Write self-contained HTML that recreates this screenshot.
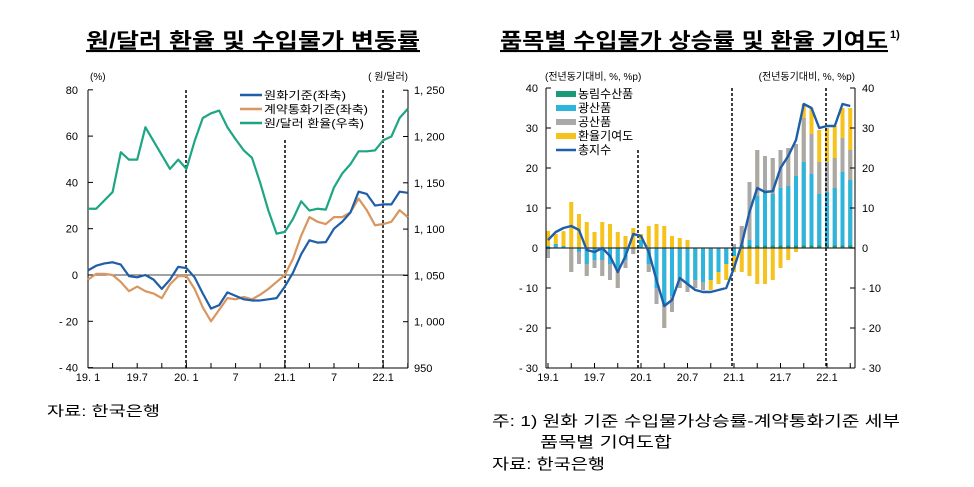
<!DOCTYPE html><html><head><meta charset="utf-8"><style>
body{margin:0;background:#fff;width:974px;height:487px;overflow:hidden;font-family:"Liberation Sans","Noto Sans CJK KR",sans-serif}
svg{position:absolute;left:0;top:0}
</style></head><body>
<svg id="s" width="974" height="487" xmlns="http://www.w3.org/2000/svg" font-family="'Liberation Sans','Noto Sans CJK KR',sans-serif"></svg>
<script>
var S=[];
function t(x,y,s,sz,anc,extra){S.push('<text x="'+x+'" y="'+y+'" font-size="'+sz+'" text-anchor="'+(anc||'start')+'" '+(extra||'')+'>'+s+'</text>');}
function l(x1,y1,x2,y2,c,w,d){S.push('<line x1="'+x1+'" y1="'+y1+'" x2="'+x2+'" y2="'+y2+'" stroke="'+c+'" stroke-width="'+w+'"'+(d?' stroke-dasharray="'+d+'"':'')+'/>');}
function pl(pts,c,w){S.push('<polyline fill="none" stroke="'+c+'" stroke-width="'+w+'" stroke-linejoin="round" points="'+pts.join(' ')+'"/>');}
// titles
t(86,48,'원/달러 환율 및 수입물가 변동률',21,'start','font-weight="bold" text-decoration="underline" textLength="334" lengthAdjust="spacingAndGlyphs"');
t(500,48,'품목별 수입물가 상승률 및 환율 기여도',21,'start','font-weight="bold" text-decoration="underline" textLength="388" lengthAdjust="spacingAndGlyphs"');
t(890,38,'1)',11,'start','font-weight="bold"');
// LEFT
var L0=88,Lx=function(i){return L0+8.2*i},Ly=function(v){return 275-v*46.3/20},Ry=function(v){return 368-(v-950)*46.3/50};
l(88,90,88,368,'#000',1);l(408,90,408,368,'#000',1);l(88,368,408,368,'#000',1);l(88,275,408,275,'#444',1);
[80,60,40,20,0,-20,-40].forEach(function(v){var y=Ly(v);l(88,y,93,y,'#000',1);t(78,y+4,v<0?'- '+(-v):v,11,'end');});
[1250,1200,1150,1100,1050,1000,950].forEach(function(v){var y=Ry(v);l(403,y,408,y,'#000',1);t(414,y+4,v>=1000?String(v).replace(/(\d)(\d{3})$/,'$1, $2'):v,11,'start');});
for(var i=0;i<=39;i+=3)l(Lx(i),368,Lx(i),363,'#000',1);
[['19. 1',0],['19.7',6],['20. 1',12],['7',18],['21.1',24],['7',30],['22.1',36]].forEach(function(a){t(Lx(a[1]),381,a[0],11,'middle');});
t(90,80,'(%)',10,'start');t(408,80,'( 원/달러)',10,'end');
l(186,90,186,368,'#000',1.5,'3,2');l(285,140,285,368,'#000',1.5,'3,2');l(383,90,383,368,'#000',1.5,'3,2');
var B=[2,4,5,5.5,4.5,-0.5,-1,0,-2,-6,-2,3.5,3,-1,-8,-14.5,-13,-7.5,-9,-10.5,-11,-11,-10.5,-10,-5,1,9,15,14,14.2,20,23,27,36,35,30,30.5,30.5,36,35.5];
var O=[-2,0.5,0.5,0,-3,-7,-5,-7,-8,-10,-4,-0.5,-0.5,-6,-14,-20,-15,-10,-10.5,-9.5,-10.5,-8.5,-6,-3,0,7,17,25,23,22,25,25,27,33,28,21.5,22,23,28,25];
var G=[1122,1122,1131,1140,1183,1175,1175,1210,1195,1180,1165,1175,1165,1195,1220,1225,1228,1210,1197,1185,1177,1150,1120,1095,1097,1111,1130,1120,1122,1121,1145,1160,1170,1184,1184,1185,1196,1200,1220,1230];
pl(G.map(function(v,i){return Lx(i)+','+Ry(v)}),'#1ea584',2.2);
pl(O.map(function(v,i){return Lx(i)+','+Ly(v)}),'#d9965f',2.2);
pl(B.map(function(v,i){return Lx(i)+','+Ly(v)}),'#1f5ea8',2.2);
[['원화기준(좌축)','#1f5ea8',82],['계약통화기준(좌축)','#d9965f',104],['원/달러 환율(우축)','#1ea584',100]].forEach(function(a,k){var y=95+k*14;l(240,y,262,y,a[1],2.5);t(264,y+4,a[0],11,'start','textLength="'+a[2]+'" lengthAdjust="spacingAndGlyphs"');});
t(47,416,'자료: 한국은행',14,'start','textLength="113" lengthAdjust="spacingAndGlyphs"');
// RIGHT
var Rx=function(i){return 548+7.75*i},Yr=function(v){return 248-v*4};
var P=[[0.5,0.5,4.3],[1,1,3.5],[0.5,0.5,4.2],[0,0,11.5],[0,0,8.5],[0,0,6.5],[0,0,4],[0,0,6.5],[0,0,6],[0,0,4],[0,0,3],[0,0,5],[2,2,3.5],[0,0,5.5],[0,0,6],[0,0,5.5],[0,0,3],[0,0,2.5],[0,0,2],[0,0,0],[0,0,0],[0,0,0],[0,0,0],[0,0,0],[0,1,1],[0,5.5,5.5],[2,16.5,16.5],[13,24.5,24.5],[14,23,23],[13.5,22.5,22.5],[15,24.5,24.5],[15.5,25,25],[18,26,26],[21.5,32.5,36],[18.5,28.5,35],[13.5,21.5,29.5],[14,21.5,30],[15,22.5,30.5],[19,27.5,35],[17,24.5,35]];
var N=[[0,-2.5,-2.5],[0,0,0],[0,0,0],[0,-6,-6],[-1,-4,-4],[-4,-7,-7],[-3,-5,-5],[-3,-7,-7],[-4,-8,-8],[-5,-10,-10],[-3,-5,-5],[0,-1.5,-1.5],[0,0,0],[-4,-6,-6],[-10,-14,-14],[-14,-20,-20],[-12,-16,-16],[-8,-10,-10],[-9,-11,-11],[-8,-10,-10],[-8.5,-10.5,-10.5],[-8,-8,-10.5],[-6,-6,-9],[-4,-4,-8],[-2,-2,-6],[0,0,-6],[0,0,-7],[0,0,-9],[0,0,-9],[0,0,-8],[0,0,-5],[0,0,-3],[0,0,-1],[0,0,0],[0,0,0],[0,0,0],[0,0,0],[0,0,0],[0,0,0],[0,0,0]];
function bar(i,a,b,c){if(a==b)return;var y1=Yr(Math.max(a,b)),y2=Yr(Math.min(a,b));S.push('<rect x="'+(Rx(i)-2)+'" y="'+y1+'" width="4" height="'+(y2-y1)+'" fill="'+c+'"/>');}
for(var i=0;i<40;i++){var p=P[i],n=N[i];bar(i,0,p[2],'#f6c21c');bar(i,0,p[1],'#a9a9a9');bar(i,0,p[0],'#2db5dd');bar(i,0,n[2],'#f6c21c');bar(i,0,n[1],'#a9a9a9');bar(i,0,n[0],'#2db5dd');if(i>=25)bar(i,0,0.6,'#1a9a78');}
l(546,88,546,368,'#000',1);l(855,88,855,368,'#000',1);l(546,368,855,368,'#000',1);l(546,248,855,248,'#333',1.2);
[40,30,20,10,0,-10,-20,-30].forEach(function(v){var y=Yr(v);l(546,y,551,y,'#000',1);l(850,y,855,y,'#000',1);t(538,y+4,v<0?'- '+(-v):v,11,'end');t(862,y+4,v<0?'- '+(-v):v,11,'start');});
for(var i=0;i<=39;i+=3)l(Rx(i),368,Rx(i),363,'#000',1);
[['19.1',0],['19.7',6],['20.1',12],['20.7',18],['21.1',24],['21.7',30],['22.1',36]].forEach(function(a){t(Rx(a[1]),381,a[0],11,'middle');});
t(545,80,'(전년동기대비, %, %p)',10,'start');t(855,80,'(전년동기대비, %, %p)',10,'end');
l(638,150,638,368,'#000',1.5,'3,2');l(732,88,732,368,'#000',1.5,'3,2');l(826,88,826,368,'#000',1.5,'3,2');
pl(B.map(function(v,i){return Rx(i)+','+Yr(v)}),'#1f5ea8',2.4);
[['농림수산품','#1a9a78'],['광산품','#2db5dd'],['공산품','#a9a9a9'],['환율기여도','#f6c21c']].forEach(function(a,k){var y=94+k*14;S.push('<rect x="556" y="'+(y-3)+'" width="20" height="6" fill="'+a[1]+'"/>');t(578,y+4,a[0],12);});
l(556,150,576,150,'#1f5ea8',2.5);t(578,154,'총지수',12);
t(492,426,'주: 1) 원화 기준 수입물가상승률-계약통화기준 세부',15,'start','textLength="408" lengthAdjust="spacingAndGlyphs"');
t(540,447,'품목별 기여도합',15,'start','textLength="132" lengthAdjust="spacingAndGlyphs"');
t(492,469,'자료: 한국은행',15,'start','textLength="113" lengthAdjust="spacingAndGlyphs"');
document.getElementById('s').innerHTML=S.join('');
</script>
</body></html>
